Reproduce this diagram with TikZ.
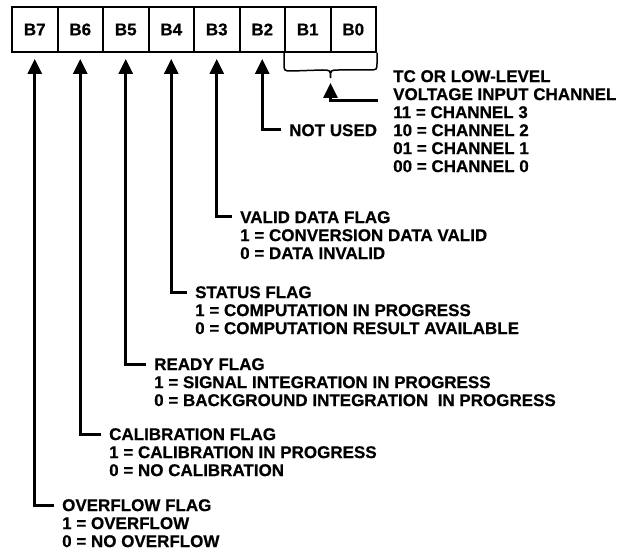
\documentclass[tikz,border=0pt]{standalone}
\usepackage{fontspec}
\setmainfont{Liberation Sans}[BoldFeatures={FakeBold=0.6}]
\usetikzlibrary{arrows.meta,calc}
\begin{document}
\begin{tikzpicture}[x=1pt,y=-1pt,
  cell/.style={draw,line width=2pt,minimum width=45.5pt,minimum height=45pt,inner sep=0pt,font=\bfseries\fontsize{17}{18}\selectfont},
  lbl/.style={anchor=north west,inner sep=0pt,align=left,font=\bfseries\fontsize{17}{18}\selectfont},
  conn/.style={line width=3pt,-{Triangle[width=14pt,length=15pt]},shorten >=6pt},
  bracestyle/.style={line width=1.5pt}]
\useasboundingbox (0,0) rectangle (632,556);
% register cells
\node[cell] (b7) at (34.75,29.5) {B7};
\node[cell] (b6) at (80.25,29.5) {B6};
\node[cell] (b5) at (125.75,29.5) {B5};
\node[cell] (b4) at (171.25,29.5) {B4};
\node[cell] (b3) at (216.75,29.5) {B3};
\node[cell] (b2) at (262.25,29.5) {B2};
\node[cell] (b1) at (307.75,29.5) {B1};
\node[cell] (b0) at (353.25,29.5) {B0};
% brace under B1 B0
\draw[bracestyle] (b1.south west) -- ++(0,10) .. controls ++(0,8) .. ++(8,8) -- (322,70) .. controls (330.5,70) .. (330.5,78) .. controls (330.5,70) .. (339,70) -- (368,70) .. controls (b0.south east |- 0,70) .. ($(b0.south east)+(0,10)$) -- (b0.south east);
\coordinate (bt) at (330.5,78);
% labels
\node[lbl] (tc) at (393,70) {TC OR LOW-LEVEL\\VOLTAGE INPUT CHANNEL\\11 = CHANNEL 3\\10 = CHANNEL 2\\01 = CHANNEL 1\\00 = CHANNEL 0};
\node[lbl] (t2) at (289,124) {NOT USED};
\node[lbl] (t3) at (240,211) {VALID DATA FLAG\\1 = CONVERSION DATA VALID\\0 = DATA INVALID};
\node[lbl] (t4) at (195,286) {STATUS FLAG\\1 = COMPUTATION IN PROGRESS\\0 = COMPUTATION RESULT AVAILABLE};
\node[lbl] (t5) at (154,358) {READY FLAG\\1 = SIGNAL INTEGRATION IN PROGRESS\\0 = BACKGROUND INTEGRATION\ \ IN PROGRESS};
\node[lbl] (t6) at (109,428) {CALIBRATION FLAG\\1 = CALIBRATION IN PROGRESS\\0 = NO CALIBRATION};
\node[lbl] (t7) at (62,499) {OVERFLOW FLAG\\1 = OVERFLOW\\0 = NO OVERFLOW};
% connectors
\draw[conn,shorten >=5pt] ($(tc.north west)+(-15,31)$) -| (bt);
\draw[conn] ($(t2.north west)+(-8,6)$) -| (b2.south);
\draw[conn] ($(t3.north west)+(-8,6)$) -| (b3.south);
\draw[conn] ($(t4.north west)+(-8,6)$) -| (b4.south);
\draw[conn] ($(t5.north west)+(-8,6)$) -| (b5.south);
\draw[conn] ($(t6.north west)+(-8,6)$) -| (b6.south);
\draw[conn] ($(t7.north west)+(-8,6)$) -| (b7.south);
\end{tikzpicture}
\end{document}
